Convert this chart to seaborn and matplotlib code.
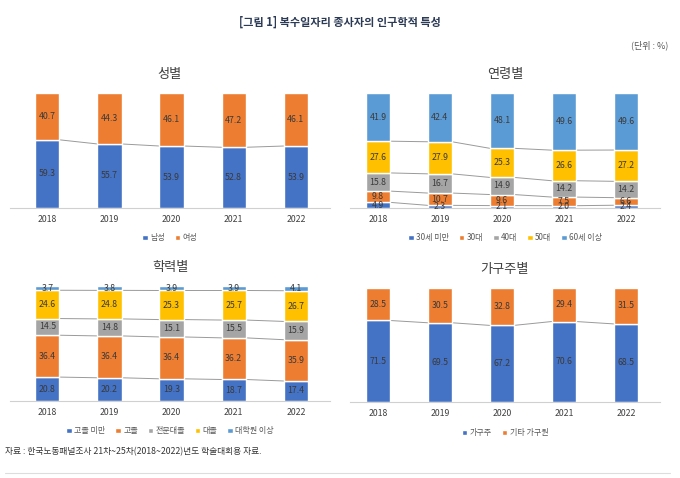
import numpy as np
import matplotlib
matplotlib.use("Agg")
import matplotlib.pyplot as plt
import seaborn as sns

sns.set_style("white")
plt.rcParams["font.family"] = ["Noto Sans CJK KR", "DejaVu Sans"]

years = ["2018", "2019", "2020", "2021", "2022"]

# 성별
gender_labels = ["남성", "여성"]
male = [59.3, 55.7, 53.9, 52.8, 53.9]
female = [40.7, 44.3, 46.1, 47.2, 46.1]

# 연령별
age_labels = ["30세 미만", "30대", "40대", "50대", "60세 이상"]
age_u30 = [4.9, 2.3, 2.1, 2.0, 2.4]
age_30s = [9.8, 10.7, 9.6, 7.5, 6.6]
age_40s = [15.8, 16.7, 14.9, 14.2, 14.2]
age_50s = [27.6, 27.9, 25.3, 26.6, 27.2]
age_60p = [41.9, 42.4, 48.1, 49.6, 49.6]

# 학력별
edu_labels = ["고졸 미만", "고졸", "전문대졸", "대졸", "대학원 이상"]
edu_low = [20.8, 20.2, 19.3, 18.7, 17.4]
edu_high = [36.4, 36.4, 36.4, 36.2, 35.9]
edu_college = [14.5, 14.8, 15.1, 15.5, 15.9]
edu_univ = [24.6, 24.8, 25.3, 25.7, 26.7]
edu_grad = [3.7, 3.8, 3.9, 3.9, 4.1]

# 가구주별
hh_labels = ["가구주", "기타 가구원"]
hh_head = [71.5, 69.5, 67.2, 70.6, 68.5]
hh_other = [28.5, 30.5, 32.8, 29.4, 31.5]

BLUE = "#4472C4"
ORANGE = "#ED7D31"
GRAY = "#A5A5A5"
GOLD = "#FFC000"
LBLUE = "#5B9BD5"

W = 0.39
fig = plt.figure(figsize=(6.8, 4.78), dpi=100)


def px_axes(left, top, right, bottom):
    return fig.add_axes([left / 680, 1 - bottom / 478, (right - left) / 680, (bottom - top) / 478])


def stacked(ax, series, colors, labels, title, xlim, legend_y):
    cum = np.zeros(len(years))
    levels = []
    for vals, col, lab in zip(series, colors, labels):
        vals = np.array(vals)
        sns.barplot(x=years, y=vals, bottom=cum, color=col, width=W,
                    errorbar=None, ax=ax, label=lab, saturation=1)
        for i, v in enumerate(vals):
            ax.text(i, cum[i] + v / 2, f"{v:.1f}", ha="center", va="center",
                    fontsize=6.3, color="#3a3a3a")
        cum = cum + vals
        levels.append(cum.copy())
    # series lines between bars
    for lev in levels[:-1]:
        for i in range(len(years) - 1):
            ax.plot([i + W / 2, i + 1 - W / 2], [lev[i], lev[i + 1]],
                    color="#9a9a9a", lw=0.7, zorder=0)
    ax.set_ylim(0, 100)
    ax.set_xlim(*xlim)
    ax.set_xlabel("")
    ax.set_ylabel("")
    ax.set_yticks([])
    ax.tick_params(axis="x", length=0, labelsize=6.3, labelcolor="#404040", pad=5)
    for s in ["top", "left", "right"]:
        ax.spines[s].set_visible(False)
    ax.spines["bottom"].set_color("#d0d0d0")
    ax.spines["bottom"].set_linewidth(0.8)
    ax.set_title(title, fontsize=9.5, color="#404040", pad=11)
    ax.legend(loc="center", bbox_to_anchor=(0.5, legend_y), ncol=len(labels),
              frameon=False, fontsize=5.8, handlelength=0.7, handleheight=0.7,
              handletextpad=0.3, columnspacing=1.2, labelcolor="#595959")


ax1 = px_axes(10, 93, 330, 208)
stacked(ax1, [male, female], [BLUE, ORANGE], gender_labels, "성별", (-0.6, 4.55), -0.26)

ax2 = px_axes(350, 93, 660, 208)
stacked(ax2, [age_u30, age_30s, age_40s, age_50s, age_60p],
        [BLUE, ORANGE, GRAY, GOLD, LBLUE], age_labels, "연령별", (-0.45, 4.55), -0.26)

ax3 = px_axes(10, 286, 330, 401)
stacked(ax3, [edu_low, edu_high, edu_college, edu_univ, edu_grad],
        [BLUE, ORANGE, GRAY, GOLD, LBLUE], edu_labels, "학력별", (-0.6, 4.55), -0.26)

ax4 = px_axes(350, 288, 660, 402)
stacked(ax4, [hh_head, hh_other], [BLUE, ORANGE], hh_labels, "가구주별", (-0.45, 4.55), -0.27)

fig.text(0.5, 1 - 22 / 478, "[그림 1] 복수일자리 종사자의 인구학적 특성", ha="center", va="center",
         fontsize=8, fontweight="bold", color="#2b3a55")
fig.text(1 - 12 / 680, 1 - 45 / 478, "(단위 : %)", ha="right", va="center",
         fontsize=6.5, color="#555555")
fig.text(5 / 680, 1 - 452 / 478, "자료 : 한국노동패널조사 21차~25차(2018~2022)년도 학술대회용 자료.",
         ha="left", va="center", fontsize=6.3, color="#333333")
fig.add_artist(plt.Line2D([5 / 680, 670 / 680], [1 - 473 / 478] * 2,
                          color="#dddddd", lw=0.8))

fig.savefig("out.png", dpi=100)
